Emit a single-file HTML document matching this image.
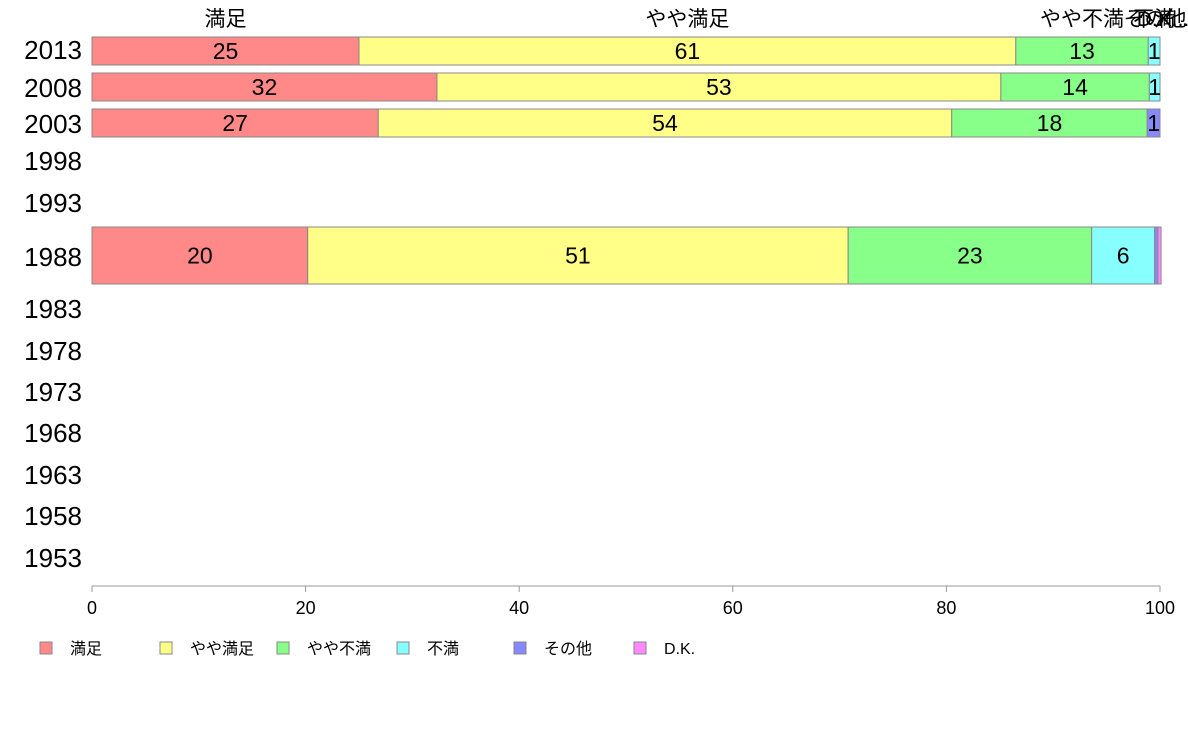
<!DOCTYPE html>
<html><head><meta charset="utf-8"><style>
body{margin:0;background:#fff;font-family:"Liberation Sans","Noto Sans CJK JP",sans-serif}
svg text{font-family:"Liberation Sans","Noto Sans CJK JP",sans-serif}
</style></head><body>
<svg id="c" width="1188" height="736" xmlns="http://www.w3.org/2000/svg"></svg>
<script>
const categories=["満足","やや満足","やや不満","不満","その他","D.K."];
const colors=["#ff8888","#ffff88","#88ff88","#88ffff","#8888ff","#ff88ff"];
const years=["2013","2008","2003","1998","1993","1988","1983","1978","1973","1968","1963","1958","1953"];
const yearY=[50,88,124,161,203,257,309,351,392,433,475,516,558];
const barYears=["2013","2008","2003","1988"];
const barTop=[37,73,109,227];
const barH=[28,28,28,57];
const s2013=[25,61.5,12.4,1.1,0,0];
const s2008=[32.3,52.8,13.9,1.0,0,0];
const s2003=[26.8,53.7,18.3,0,1.2,0];
const s1988=[20.2,50.6,22.8,5.9,0.3,0.3];
const seriesRows=[s2013,s2008,s2003,s1988];
const printed2013=["25","61","13","1","",""];
const printed2008=["32","53","14","1","",""];
const printed2003=["27","54","18","","1",""];
const printed1988=["20","51","23","6","",""];
const printedRows=[printed2013,printed2008,printed2003,printed1988];
const xTicks=[0,20,40,60,80,100];
const X0=92,X1=1160;
const xs=v=>X0+(X1-X0)*v/100;
const svg=document.getElementById('c');
const NS="http://www.w3.org/2000/svg";
function mk(t,a){const e=document.createElementNS(NS,t);for(const k in a)e.setAttribute(k,a[k]);svg.appendChild(e);return e;}
// year labels
years.forEach((y,i)=>{const t=mk('text',{x:82,y:yearY[i]+9,'font-size':26,'text-anchor':'end',fill:'#000'});t.textContent=y;

});
// bars
seriesRows.forEach((row,r)=>{let acc=0;row.forEach((v,k)=>{if(v<=0){return;}
const x=xs(acc),w=xs(acc+v)-xs(acc);
const rc=mk('rect',{x:x,y:barTop[r],width:w,height:barH[r],fill:colors[k],stroke:'#888','stroke-width':1});


const lab=printedRows[r][k];
if(lab){const t=mk('text',{x:x+w/2,y:barTop[r]+barH[r]/2+8,'font-size':23,'text-anchor':'middle',fill:'#000'});t.textContent=lab;

}
acc+=v;});});
// top category labels from 2013 row
let acc=0;categories.forEach((c,k)=>{const v=s2013[k];const cx=k<4?xs(acc+v/2):xs(100)-5+(k-4)*8;
const t=mk('text',{x:cx,y:26,'font-size':21,'text-anchor':'middle',fill:'#000'});t.textContent=k==5?'D.K...':c;


acc+=v;});
// x axis
const ax=mk('line',{x1:X0,x2:X1,y1:586,y2:586,stroke:'#999','stroke-width':1});


xTicks.forEach(v=>{mk('line',{x1:xs(v),x2:xs(v),y1:586,y2:592,stroke:'#999'});
const t=mk('text',{x:xs(v),y:614,'font-size':18,'text-anchor':'middle',fill:'#000'});t.textContent=v;

});
// legend
const legX=[40,160,277,397,514,634];
categories.forEach((c,k)=>{const r=mk('rect',{x:legX[k],y:642,width:12,height:12,fill:colors[k],stroke:'#888'});


const t=mk('text',{x:legX[k]+30,y:654,'font-size':16,fill:'#000'});t.textContent=c;

});
</script>
</body></html>
